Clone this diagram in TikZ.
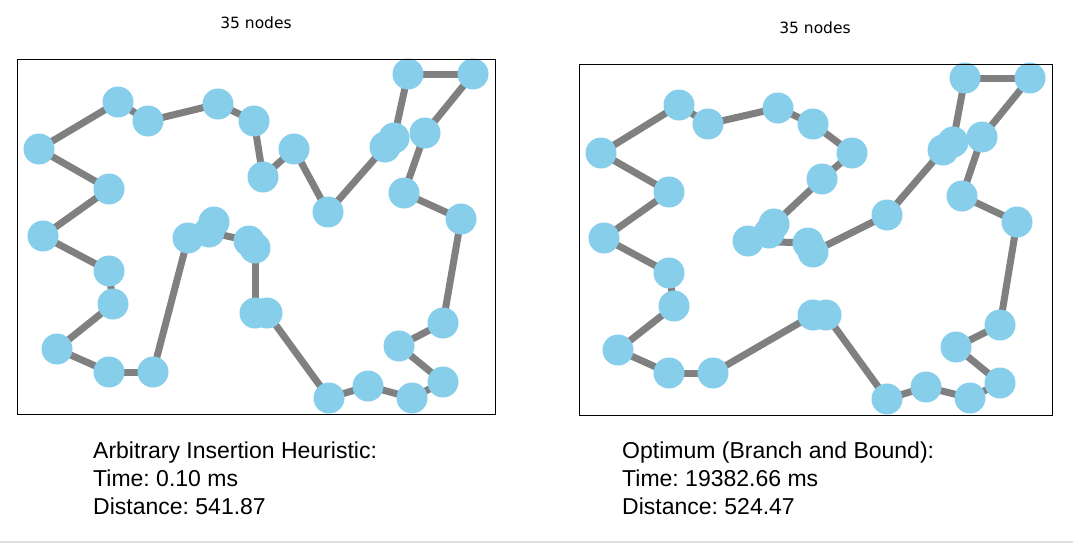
\documentclass[tikz,border=0pt]{standalone}
\usepackage{fontspec}
\setmainfont{Liberation Sans}
\newfontfamily\djv{DejaVu Sans}
\usetikzlibrary{backgrounds}
\definecolor{nodeblue}{RGB}{135,206,235}
\definecolor{edgegray}{RGB}{128,128,128}
\definecolor{rulegray}{RGB}{222,222,222}
\tikzset{
  city/.style={circle,fill=nodeblue,draw=none,minimum size=31pt,inner sep=0pt},
  tour/.style={draw=edgegray,line width=7pt},
  frame/.style={draw=black,line width=1pt},
  ttl/.style={font=\djv\fontsize{15.5}{18}\selectfont,anchor=center},
  info/.style={font=\fontsize{23}{28}\selectfont,align=left,anchor=north west,inner sep=0pt}
}
\frenchspacing
\begin{document}
\begin{tikzpicture}[x=1pt,y=-1pt]
\useasboundingbox (0,0) rectangle (1073,544);
% ---------- left panel ----------
\foreach \n/\px/\py in {1/39/149,2/118/102,3/148/121,4/218/104,5/254/121,6/263/177,7/294/149,8/328/212,9/385/147,10/394/138,11/408/74,12/473/74,13/425/133,14/404/193,15/461/219,16/443/323,17/399/346,18/443/382,19/412/398,20/368/386,21/329/398,22/267/313,23/255/313,24/255/248,25/249/241,26/209/232,27/214/222,28/188/238,29/153/372,30/109/372,31/57/349,32/113/304,33/109/271,34/43/236,35/109/189}
  \node[city] (L\n) at (\px,\py) {};
% ---------- right panel ----------
\foreach \n/\px/\py in {1/601/153,2/679/105,3/708/124,4/778/108,5/813/124,6/852/153,7/822/179,8/774/224,9/769/233,10/748/241,11/808/243,12/813/252,13/887/215,14/943/150,15/953/142,16/965/78,17/1030/78,18/982/137,19/962/196,20/1017/222,21/1000/325,22/956/347,23/1000/383,24/970/398,25/926/387,26/887/399,27/826/315,28/813/315,29/713/373,30/669/373,31/618/350,32/674/306,33/669/273,34/604/238,35/669/192}
  \node[city] (R\n) at (\px,\py) {};
\begin{scope}[on background layer]
  \fill[white] (0,0) rectangle (1073,544);
  \foreach \a/\b in {1/2,2/3,3/4,4/5,5/6,6/7,7/8,8/9,9/10,10/11,11/12,12/13,13/14,14/15,15/16,16/17,17/18,18/19,19/20,20/21,21/22,22/23,23/24,24/25,25/26,26/27,27/28,28/29,29/30,30/31,31/32,32/33,33/34,34/35,35/1}
  {
    \draw[tour] (L\a.center) -- (L\b.center);
    \draw[tour] (R\a.center) -- (R\b.center);
  }
\end{scope}
% frames
\coordinate (lf1) at (17,59);
\coordinate (lf2) at (495,414);
\coordinate (rf1) at (579,64);
\coordinate (rf2) at (1052,415);
\draw[frame] (lf1) rectangle (lf2);
\draw[frame] (rf1) rectangle (rf2);
% titles
\node[ttl] (tl) at (256,23) {35 nodes};
\node[ttl] (tr) at (815,28) {35 nodes};
% info texts
\node[info] (il) at (93,442) {Arbitrary Insertion Heuristic:\\Time: 0.10 ms\\Distance: 541.87};
\node[info] (ir) at (622,442) {Optimum (Branch and Bound):\\Time: 19382.66 ms\\Distance: 524.47};
% bottom rule
\coordinate (b1) at (0,542);
\coordinate (b2) at (1073,542);
\draw[rulegray,line width=2pt] (b1) -- (b2);
\end{tikzpicture}
\end{document}
